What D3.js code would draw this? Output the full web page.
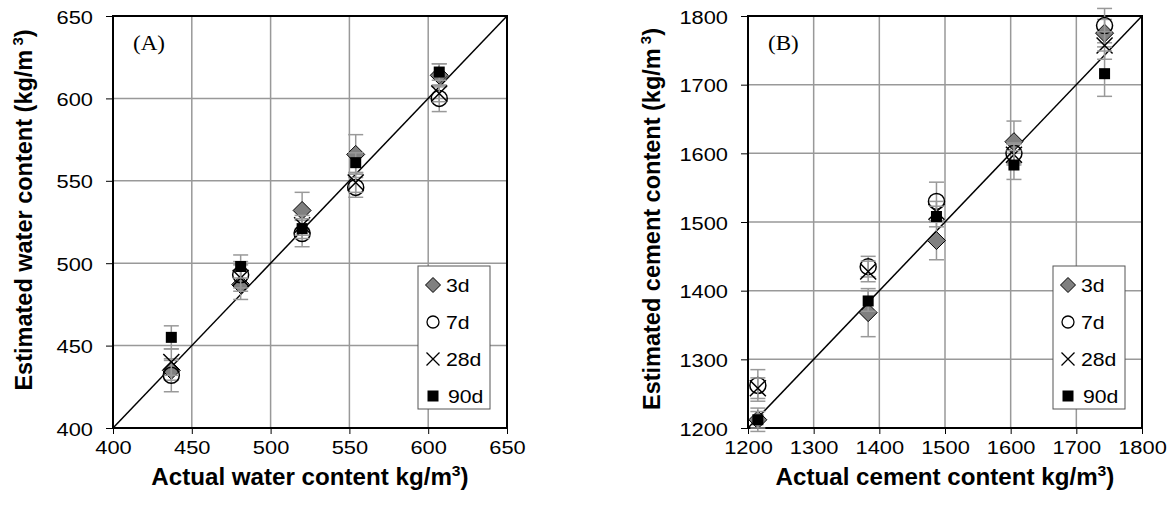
<!DOCTYPE html>
<html><head><meta charset="utf-8">
<script src="https://cdn.jsdelivr.net/npm/d3@7"></script>
<style>body{margin:0;background:#fff}</style>
</head><body>
<svg id="c" width="1175" height="515"></svg>
<script>
const seriesNames = ["3d","7d","28d","90d"];

// Panel A: water content
const waterActual = [437, 481, 520, 554, 607];
const water3d  = [435, 487, 532, 566, 614];
const water7d  = [432, 493, 518, 546, 600];
const water28d = [440, 491, 523, 549, 603];
const water90d = [455, 498, 521, 561, 616];
const waterErr3d  = [6, 9, 11, 12, 7];
const waterErr7d  = [10, 8, 8, 6, 8];
const waterErr28d = [8, 8, 6, 6, 5];
const waterErr90d = [7, 7, 6, 6, 5];
const waterTicks = [400, 450, 500, 550, 600, 650];

// Panel B: cement content
const cementActual = [1215, 1383, 1487, 1605, 1743];
const cement3d  = [1212, 1368, 1473, 1617, 1775];
const cement7d  = [1262, 1435, 1530, 1600, 1786];
const cement28d = [1258, 1428, 1515, 1598, 1757];
const cement90d = [1212, 1385, 1508, 1583, 1716];
const cementErr3d  = [17, 35, 28, 30, 20];
const cementErr7d  = [23, 15, 28, 15, 25];
const cementErr28d = [15, 15, 15, 15, 20];
const cementErr90d = [12, 15, 15, 21, 33];
const cementTicks = [1200, 1300, 1400, 1500, 1600, 1700, 1800];

const svg = d3.select("#c");
const FONT = "'Liberation Sans', Arial, sans-serif";
const SX = 1.15; // horizontal stretch of tick / legend text

function panel(cfg) {
  const g = svg.append("g");
  const x = d3.scaleLinear().domain(cfg.domain).range([cfg.x0, cfg.x1]);
  const y = d3.scaleLinear().domain(cfg.domain).range([cfg.y1, cfg.y0]);

  // grid
  g.append("g").selectAll("line").data(cfg.ticks).join("line")
    .attr("x1", d => x(d)).attr("x2", d => x(d)).attr("y1", cfg.y0).attr("y2", cfg.y1)
    .attr("stroke", "#999").attr("stroke-width", 1.5);
  g.append("g").selectAll("line").data(cfg.ticks).join("line")
    .attr("y1", d => y(d)).attr("y2", d => y(d)).attr("x1", cfg.x0).attr("x2", cfg.x1)
    .attr("stroke", "#999").attr("stroke-width", 1.5);

  // axes
  const xa = g.append("g").attr("transform", `translate(0,${cfg.y1})`)
    .call(d3.axisBottom(x).tickValues(cfg.ticks).tickFormat(d3.format("d")).tickSize(6).tickSizeOuter(0));
  const ya = g.append("g").attr("transform", `translate(${cfg.x0},0)`)
    .call(d3.axisLeft(y).tickValues(cfg.ticks).tickFormat(d3.format("d")).tickSize(7).tickSizeOuter(0));
  [xa, ya].forEach(a => {
    a.select(".domain").remove();
    a.selectAll("line").attr("stroke", "#000").attr("stroke-width", 1);
  });
  xa.selectAll(".tick text").each(function() {
    d3.select(this).attr("font-family", FONT).attr("font-size", 19).attr("fill", "#000")
      .attr("y", null).attr("dy", null).attr("transform", `translate(0,${cfg.xLabelDy}) scale(${SX},1)`);
  });
  ya.selectAll(".tick text").each(function() {
    d3.select(this).attr("font-family", FONT).attr("font-size", 19).attr("fill", "#000")
      .attr("x", null).attr("dy", null).attr("transform", `translate(-20,7) scale(${SX},1)`);
  });

  // frame
  g.append("rect").attr("x", cfg.x0).attr("y", cfg.y0)
    .attr("width", cfg.x1 - cfg.x0).attr("height", cfg.y1 - cfg.y0)
    .attr("fill", "none").attr("stroke", "#000").attr("stroke-width", 2);

  // 1:1 line
  g.append("line").attr("x1", x(cfg.domain[0])).attr("y1", y(cfg.domain[0]))
    .attr("x2", x(cfg.domain[1])).attr("y2", y(cfg.domain[1]))
    .attr("stroke", "#000").attr("stroke-width", 1.5);

  // series
  const shapes = [
    {type: "diamond", h: 9, fill: "#808080", stroke: "#000", sw: 1},
    {type: "circle", r: 8, fill: "none", stroke: "#000", sw: 1.5},
    {type: "x", h: 8, stroke: "#000", sw: 1.5},
    {type: "square", h: 5.5, fill: "#000"}
  ];
  cfg.series.forEach((vals, si) => {
    const errs = cfg.errs[si];
    const eg = g.append("g");
    cfg.actual.forEach((a, i) => {
      const cx = x(a), lo = y(vals[i] - errs[i]), hi = y(vals[i] + errs[i]);
      eg.append("line").attr("x1", cx).attr("x2", cx).attr("y1", lo).attr("y2", hi)
        .attr("stroke", "#999").attr("stroke-width", 1.5);
      [lo, hi].forEach(yy => eg.append("line").attr("x1", cx - 7.5).attr("x2", cx + 7.5)
        .attr("y1", yy).attr("y2", yy).attr("stroke", "#999").attr("stroke-width", 1.5));
    });
    const mg = g.append("g");
    cfg.actual.forEach((a, i) => drawMarker(mg, shapes[si], x(a), y(vals[i])));
  });

  // legend
  const lx = cfg.x1 - 89, ly = 266;
  g.append("rect").attr("x", lx).attr("y", ly).attr("width", 72).attr("height", 143)
    .attr("fill", "#fff").attr("stroke", "#555").attr("stroke-width", 1);
  const lshapes = [
    {type: "diamond", h: 7.5, fill: "#808080", stroke: "#000", sw: 1},
    {type: "circle", r: 6, fill: "none", stroke: "#000", sw: 1.3},
    {type: "x", h: 6.5, stroke: "#000", sw: 1.3},
    {type: "square", h: 5.5, fill: "#000"}
  ];
  seriesNames.forEach((n, i) => {
    const yy = ly + 19 + i * 37;
    drawMarker(g, lshapes[i], lx + 15, yy);
    g.append("text").attr("transform", `translate(${lx + (i === 3 ? 30 : 28)},${yy + 7}) scale(1.18,1)`)
      .attr("font-family", FONT).attr("font-size", 18).text(n);
  });

  // panel label
  g.append("text").attr("transform", `translate(${cfg.x0 + 20},${cfg.labelY}) scale(1.1,1)`)
    .attr("font-family", "'Liberation Serif', 'Times New Roman', serif").attr("font-size", 21).text(cfg.label);

  // x title
  const xt = g.append("text").attr("transform", `translate(${(cfg.x0 + cfg.x1) / 2},${cfg.xTitleY}) scale(1.05,1)`)
    .attr("text-anchor", "middle").attr("font-family", FONT).attr("font-size", 23).attr("font-weight", "bold");
  xt.append("tspan").text(cfg.xtitle);
  xt.append("tspan").attr("font-size", 15).attr("dy", -9).text("3");
  xt.append("tspan").attr("dy", 9).text(")");

  // y title
  const yt = g.append("text").attr("transform", `translate(${cfg.ytx},${cfg.yty}) rotate(-90)`)
    .attr("text-anchor", "middle").attr("font-family", FONT).attr("font-size", 23.5).attr("font-weight", "bold");
  yt.append("tspan").text(cfg.ytitle);
  yt.append("tspan").attr("font-size", 15).attr("dy", -9).text(" 3");
  yt.append("tspan").attr("dy", 9).text(")");
}

function drawMarker(g, s, cx, cy) {
  if (s.type === "circle") {
    g.append("circle").attr("cx", cx).attr("cy", cy).attr("r", s.r)
      .attr("fill", s.fill).attr("stroke", s.stroke).attr("stroke-width", s.sw);
  } else if (s.type === "x") {
    g.append("path").attr("d", `M${cx - s.h},${cy - s.h}L${cx + s.h},${cy + s.h}M${cx - s.h},${cy + s.h}L${cx + s.h},${cy - s.h}`)
      .attr("stroke", s.stroke).attr("stroke-width", s.sw).attr("fill", "none");
  } else if (s.type === "square") {
    g.append("rect").attr("x", cx - s.h).attr("y", cy - s.h).attr("width", 2 * s.h).attr("height", 2 * s.h).attr("fill", s.fill);
  } else {
    g.append("path").attr("d", `M${cx},${cy - s.h}L${cx + s.h},${cy}L${cx},${cy + s.h}L${cx - s.h},${cy}Z`)
      .attr("fill", s.fill).attr("stroke", s.stroke).attr("stroke-width", s.sw);
  }
}

panel({
  x0: 113, x1: 507, y0: 16, y1: 428, domain: [400, 650], ticks: waterTicks,
  actual: waterActual, series: [water3d, water7d, water28d, water90d],
  errs: [waterErr3d, waterErr7d, waterErr28d, waterErr90d],
  label: "(A)", labelY: 50, xLabelDy: 26, xTitleY: 485,
  xtitle: "Actual water content kg/m", ytitle: "Estimated water content (kg/m", ytx: 32, yty: 210
});
panel({
  x0: 748, x1: 1142, y0: 16, y1: 428, domain: [1200, 1800], ticks: cementTicks,
  actual: cementActual, series: [cement3d, cement7d, cement28d, cement90d],
  errs: [cementErr3d, cementErr7d, cementErr28d, cementErr90d],
  label: "(B)", labelY: 50, xLabelDy: 26, xTitleY: 485,
  xtitle: "Actual cement content kg/m", ytitle: "Estimated cement content (kg/m", ytx: 660, yty: 219
});
</script>
</body></html>
